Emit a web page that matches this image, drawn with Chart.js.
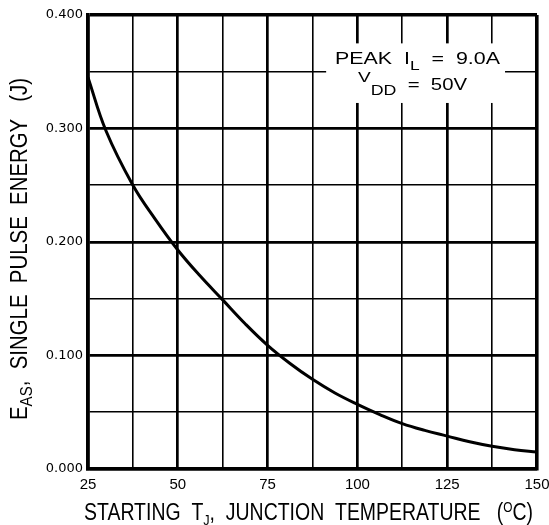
<!DOCTYPE html>
<html>
<head>
<meta charset="utf-8">
<script src="https://cdn.jsdelivr.net/npm/chart.js@4.4.0/dist/chart.umd.min.js"></script>
<style>
  html, body { margin: 0; padding: 0; background: #fff; }
  #wrap { width: 549px; height: 525px; position: relative; }
</style>
</head>
<body>
<div id="wrap"><canvas id="c"></canvas></div>
<script>
// ---- data ----
const temps  = [25, 30, 37.5, 43.75, 50, 56.25, 62.5, 68.75, 75, 81.25, 87.5, 93.75, 100, 106.25, 112.5, 118.75, 125, 131.25, 137.5, 143.75, 150];
const energy = [0.345, 0.298, 0.250, 0.220, 0.193, 0.170, 0.149, 0.128, 0.109, 0.093, 0.079, 0.067, 0.057, 0.048, 0.040, 0.034, 0.029, 0.024, 0.020, 0.017, 0.015];
const edgeTemps  = [150, 150];
const edgeEnergy = [0.015, 0.000];
const xTickValues = [25, 50, 75, 100, 125, 150];
const yTickLabels = ['0.000', '0.100', '0.200', '0.300', '0.400'];
const annotationLines = ['PEAK I_L = 9.0A', 'V_DD = 50V'];
const xTitle = 'STARTING T_J, JUNCTION TEMPERATURE (°C)';
const yTitle = 'E_AS, SINGLE PULSE ENERGY (J)';

const FONT = '"Liberation Sans", Arial, sans-serif';

function isMult(v, step) {
  const r = v / step;
  return Math.abs(r - Math.round(r)) < 1e-6;
}

// Draw a sequence of text segments, horizontally scaled to fit targetWidth
function drawRich(ctx, segs, targetWidth) {
  let total = 0;
  for (const s of segs) {
    ctx.font = s.size + 'px ' + FONT;
    s.w = ctx.measureText(s.t).width;
    total += s.w;
  }
  const sx = targetWidth / total;
  ctx.save();
  ctx.scale(sx, 1);
  let x = 0;
  ctx.textBaseline = 'alphabetic';
  ctx.textAlign = 'left';
  ctx.fillStyle = '#000';
  for (const s of segs) {
    ctx.font = s.size + 'px ' + FONT;
    ctx.fillText(s.t, x, s.dy || 0);
    x += s.w;
  }
  ctx.restore();
}

const textPlugin = {
  id: 'textPlugin',
  afterDraw(chart) {
    const ctx = chart.ctx;
    const xs = chart.scales.x, ys = chart.scales.y;

    // white box behind the annotation (in data coordinates)
    const bx0 = xs.getPixelForValue(91.3), bx1 = xs.getPixelForValue(141.1);
    const by0 = ys.getPixelForValue(0.375), by1 = ys.getPixelForValue(0.3225);
    ctx.save();
    ctx.fillStyle = '#fff';
    ctx.fillRect(bx0, by0, bx1 - bx0, by1 - by0);
    ctx.restore();

    // annotation line 1: PEAK I_L = 9.0A
    ctx.save();
    ctx.translate(335, 64);
    drawRich(ctx, [
      {t: 'PEAK  I', size: 16},
      {t: 'L', size: 13, dy: 6},
      {t: '  =  9.0A', size: 16}
    ], 165);
    ctx.restore();

    // annotation line 2: V_DD = 50V
    ctx.save();
    ctx.translate(358, 90);
    drawRich(ctx, [
      {t: 'V', size: 15, dy: -8},
      {t: 'DD', size: 14, dy: 5},
      {t: '  =  50V', size: 16}
    ], 109);
    ctx.restore();

    // x title
    ctx.save();
    ctx.translate(84, 520);
    drawRich(ctx, [
      {t: 'STARTING  T', size: 23},
      {t: 'J', size: 15, dy: 5},
      {t: ',  JUNCTION  TEMPERATURE   (', size: 23},
      {t: 'O', size: 14, dy: -8},
      {t: 'C)', size: 23}
    ], 449);
    ctx.restore();

    // y title (rotated)
    ctx.save();
    ctx.translate(27, 420);
    ctx.rotate(-Math.PI / 2);
    drawRich(ctx, [
      {t: 'E', size: 23},
      {t: 'AS', size: 17, dy: 5},
      {t: ',  SINGLE  PULSE  ENERGY   (J)', size: 23}
    ], 342);
    ctx.restore();
  }
};

const majorW = 2.7, minorW = 1.6, edgeW = 3.6;

new Chart(document.getElementById('c'), {
  type: 'line',
  data: {
    datasets: [
      {
        data: temps.map((t, i) => ({x: t, y: energy[i]})),
        borderColor: '#000',
        borderWidth: 3,
        pointRadius: 0,
        tension: 0.4,
        fill: false
      },
      {
        data: edgeTemps.map((t, i) => ({x: t, y: edgeEnergy[i]})),
        borderColor: '#000',
        borderWidth: 4,
        pointRadius: 0,
        fill: false
      }
    ]
  },
  options: {
    responsive: true,
    maintainAspectRatio: false,
    animation: false,
    devicePixelRatio: 1,
    layout: { padding: { top: 15, right: 12, left: 0, bottom: 0 } },
    plugins: { legend: { display: false }, tooltip: { enabled: false }, title: { display: false } },
    scales: {
      x: {
        type: 'linear',
        min: 25, max: 150,
        afterFit(s) { s.height = 56; s.paddingLeft = 0; s.paddingRight = 0; },
        border: { display: true, color: '#000', width: edgeW },
        grid: {
          color: '#000',
          drawTicks: false,
          lineWidth: c => (c.tick.value === 150 || c.tick.value === 25) ? edgeW : (isMult(c.tick.value, 25) ? majorW : minorW)
        },
        ticks: {
          stepSize: 12.5,
          autoSkip: false,
          maxRotation: 0,
          padding: 7,
          color: '#000',
          font: { family: FONT, size: 15 },
          callback: v => xTickValues.includes(v) ? String(v) : ''
        }
      },
      y: {
        type: 'linear',
        min: 0, max: 0.4,
        afterFit(s) { s.width = 88; s.paddingTop = 0; s.paddingBottom = 0; },
        border: { display: true, color: '#000', width: edgeW },
        grid: {
          color: '#000',
          drawTicks: false,
          lineWidth: c => (isMult(c.tick.value, 0.4) && c.tick.value > 0.3) || c.tick.value === 0 ? edgeW : (isMult(c.tick.value, 0.1) ? majorW : minorW)
        },
        ticks: {
          stepSize: 0.05,
          autoSkip: false,
          padding: 5,
          color: '#000',
          font: { family: '"DejaVu Sans", sans-serif', size: 13 },
          callback: v => isMult(v, 0.1) ? yTickLabels[Math.round(v * 10)] : ''
        }
      }
    }
  },
  plugins: [textPlugin]
});
</script>
</body>
</html>
